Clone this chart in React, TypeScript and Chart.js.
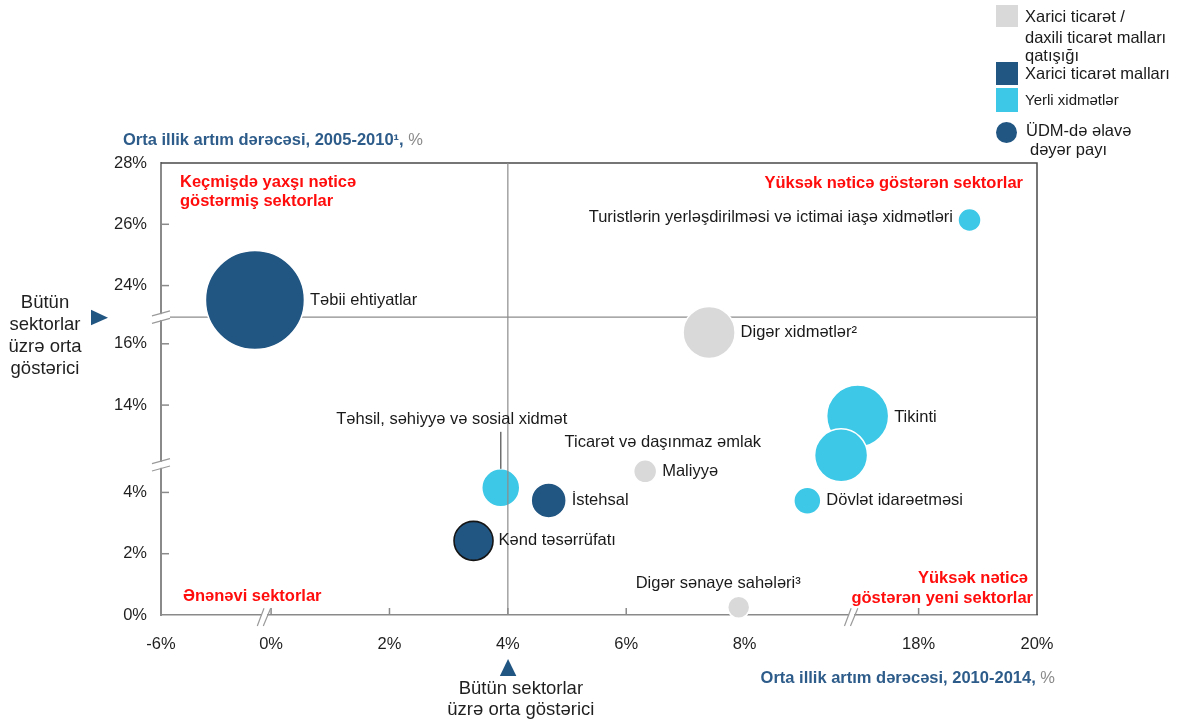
import React, { useEffect, useRef } from "react";
import { Chart, registerables } from "chart.js";

Chart.register(...registerables);

const FONT = "'Liberation Sans', Arial, Helvetica, sans-serif";

// ---------------- DATA ----------------
const sectors = [
  "Təbii ehtiyatlar",
  "Turistlərin yerləşdirilməsi və ictimai iaşə xidmətləri",
  "Digər xidmətlər²",
  "Tikinti",
  "Ticarət və daşınmaz əmlak",
  "Dövlət idarəetməsi",
  "Maliyyə",
  "İstehsal",
  "Təhsil, səhiyyə və sosial xidmət",
  "Kənd təsərrüfatı",
  "Digər sənaye sahələri³",
];
// x: average annual growth 2010-2014, %
const growth2010_2014 = [-0.88, 18.86, 7.4, 16.97, 9.63, 9.06, 6.32, 4.69, 3.88, 3.42, 7.9];
// y: average annual growth 2005-2010, %
const growth2005_2010 = [23.53, 26.14, 16.37, 13.64, 12.36, 3.73, 4.69, 3.74, 4.15, 2.42, 0.25];
// bubble size: share of value added in GDP (bubble radius)
const valueAddedShare = [49.5, 11.5, 26, 31, 26.5, 13.5, 11.5, 17.5, 19, 19.5, 11];
// 0 = mixed, 1 = foreign-trade goods, 2 = local services
const sectorGroup = [1, 2, 0, 2, 2, 2, 0, 1, 2, 1, 0];
const groupNames = [
  "Xarici ticarət / daxili ticarət malları qatışığı",
  "Xarici ticarət malları",
  "Yerli xidmətlər",
];
const xTickValues = [-6, 0, 2, 4, 6, 8, 18, 20];
const yTickValues = [0, 2, 4, 14, 16, 24, 26, 28];
const xInnerTicks = [0, 2, 4, 6, 8, 18];
const yInnerTicks = [2, 4, 14, 16, 24, 26];
const avgGrowth2010_2014 = 4;

// ---------------- STYLE ----------------
const groupColors = ["#d9d9d9", "#215582", "#3cc8e6"];
const groupBorders = ["#ffffff", "#ffffff", "#ffffff"];
// label placement per sector: [mode, dx, dy]
const labelPlacement: [string, number, number][] = [
  ["right", 0, 0],
  ["left", 0, -3],
  ["right", 0, 0],
  ["right", 0, 1],
  ["endAt", -80, -13],
  ["right", 0, 0],
  ["right", 0, 0],
  ["right", 0, 0],
  ["leader", -49, -68],
  ["right", 0, 0],
  ["startAt", -103, -24],
];

// broken-axis mapping (real % -> linear axis position)
function toVX(x: number) {
  if (x < 0) return 1.86 + x * 0.31;
  if (x <= 13) return x + 1.86;
  return x - 5.2;
}
function toVY(y: number) {
  if (y <= 9) return y;
  if (y <= 19.5) return y - 7.15;
  return y - 13.25;
}
const X_BREAKS_V = [1.74, 11.66];
const Y_BREAKS_V = [4.9, 9.72];

function line(ctx: CanvasRenderingContext2D, x1: number, y1: number, x2: number, y2: number) {
  ctx.beginPath();
  ctx.moveTo(x1, y1);
  ctx.lineTo(x2, y2);
  ctx.stroke();
}

const decorPlugin = {
  id: "decor",
  beforeDatasetsDraw(chart: any) {
    const { ctx, chartArea: a, scales } = chart;
    const x = scales.x;
    const y = scales.y;
    ctx.save();
    // top / right frame
    ctx.strokeStyle = "#4a4a4a";
    ctx.lineWidth = 1.5;
    ctx.beginPath();
    ctx.moveTo(a.left, a.top);
    ctx.lineTo(a.right, a.top);
    ctx.lineTo(a.right, a.bottom);
    ctx.stroke();
    // inward ticks
    ctx.strokeStyle = "#8a8a8a";
    ctx.lineWidth = 1.5;
    xInnerTicks.forEach((v) => {
      const px = x.getPixelForValue(toVX(v));
      line(ctx, px, a.bottom, px, a.bottom - 7);
    });
    yInnerTicks.forEach((v) => {
      const py = y.getPixelForValue(toVY(v));
      line(ctx, a.left, py, a.left + 8, py);
    });
    // y-axis breaks
    Y_BREAKS_V.forEach((v) => {
      const py = y.getPixelForValue(v);
      ctx.fillStyle = "#ffffff";
      ctx.fillRect(a.left - 2, py - 3, 4, 6);
      ctx.strokeStyle = "#9a9a9a";
      ctx.lineWidth = 1.2;
      line(ctx, a.left - 9, py - 1.2, a.left + 9, py - 6.2);
      line(ctx, a.left - 9, py + 6.2, a.left + 9, py + 1.2);
    });
    // x-axis breaks
    X_BREAKS_V.forEach((v) => {
      const px = x.getPixelForValue(v);
      const b = a.bottom;
      ctx.fillStyle = "#ffffff";
      ctx.fillRect(px - 2, b - 2, 5, 4);
      ctx.strokeStyle = "#9a9a9a";
      ctx.lineWidth = 1.2;
      line(ctx, px - 6.7, b + 11, px, b - 6.7);
      line(ctx, px - 0.7, b + 11, px + 6.7, b - 6.7);
    });
    // horizontal average line
    const hy = y.getPixelForValue(Y_BREAKS_V[1]);
    ctx.strokeStyle = "#8c8c8c";
    ctx.lineWidth = 1.2;
    line(ctx, a.left + 9, hy, a.right, hy);
    ctx.restore();
  },
  afterDatasetsDraw(chart: any) {
    const { ctx, chartArea: a, scales } = chart;
    const x = scales.x;
    const y = scales.y;
    ctx.save();
    // vertical average line
    const vx = x.getPixelForValue(toVX(avgGrowth2010_2014));
    ctx.strokeStyle = "#8c8c8c";
    ctx.lineWidth = 1.2;
    line(ctx, vx, a.top, vx, a.bottom);

    // bubble labels
    ctx.font = `16.5px ${FONT}`;
    ctx.fillStyle = "#1a1a1a";
    ctx.textBaseline = "middle";
    sectors.forEach((name, i) => {
      const px = x.getPixelForValue(toVX(growth2010_2014[i]));
      const py = y.getPixelForValue(toVY(growth2005_2010[i]));
      const r = valueAddedShare[i];
      const [mode, dx, dy] = labelPlacement[i];
      if (mode === "right") {
        ctx.textAlign = "left";
        ctx.fillText(name, px + r + 5.5 + dx, py + dy);
      } else if (mode === "left") {
        ctx.textAlign = "right";
        ctx.fillText(name, px - r - 5 + dx, py + dy);
      } else if (mode === "endAt") {
        ctx.textAlign = "right";
        ctx.fillText(name, px + dx, py + dy);
      } else if (mode === "startAt") {
        ctx.textAlign = "left";
        ctx.fillText(name, px + dx, py + dy);
      } else if (mode === "leader") {
        ctx.textAlign = "center";
        ctx.fillText(name, px + dx, py + dy);
        ctx.strokeStyle = "#6e6e6e";
        ctx.lineWidth = 1.5;
        line(ctx, px, py + dy + 12, px, py - r);
      }
    });

    // quadrant labels (red)
    ctx.fillStyle = "#ff0d0d";
    ctx.font = `bold 16.5px ${FONT}`;
    ctx.textAlign = "left";
    ctx.fillText("Keçmişdə yaxşı nəticə", a.left + 19, a.top + 19);
    ctx.fillText("göstərmiş sektorlar", a.left + 19, a.top + 38);
    ctx.fillText("Ənənəvi sektorlar", a.left + 22, a.bottom - 19);
    ctx.textAlign = "right";
    ctx.fillText("Yüksək nəticə göstərən sektorlar", a.right - 14, a.top + 20);
    ctx.fillText("Yüksək nəticə", a.right - 9, a.bottom - 37);
    ctx.fillText("göstərən yeni sektorlar", a.right - 4, a.bottom - 17);

    // axis titles
    const drawTitle = (main: string, xPos: number, yPos: number, align: "left" | "right") => {
      ctx.font = `bold 16.5px ${FONT}`;
      const wMain = ctx.measureText(main).width;
      ctx.font = `16.5px ${FONT}`;
      const wPct = ctx.measureText("%").width;
      const start = align === "left" ? xPos : xPos - wMain - wPct;
      ctx.textAlign = "left";
      ctx.font = `bold 16.5px ${FONT}`;
      ctx.fillStyle = "#2e5c8a";
      ctx.fillText(main, start, yPos);
      ctx.font = `16.5px ${FONT}`;
      ctx.fillStyle = "#8a8a8a";
      ctx.fillText("%", start + wMain, yPos);
    };
    drawTitle("Orta illik artım dərəcəsi, 2005-2010¹, ", 123, 140, "left");
    drawTitle("Orta illik artım dərəcəsi, 2010-2014, ", 1055, 678, "right");

    // average markers
    const hy = y.getPixelForValue(Y_BREAKS_V[1]);
    ctx.fillStyle = "#215582";
    ctx.beginPath();
    ctx.moveTo(91, hy - 7.5);
    ctx.lineTo(108, hy + 0.5);
    ctx.lineTo(91, hy + 8);
    ctx.closePath();
    ctx.fill();
    ctx.beginPath();
    ctx.moveTo(vx - 8, a.bottom + 61);
    ctx.lineTo(vx + 8.5, a.bottom + 61);
    ctx.lineTo(vx + 0.2, a.bottom + 44);
    ctx.closePath();
    ctx.fill();

    ctx.fillStyle = "#1f1f1f";
    ctx.font = `18.5px ${FONT}`;
    ctx.textAlign = "center";
    ["Bütün", "sektorlar", "üzrə orta", "göstərici"].forEach((t, i) => {
      ctx.fillText(t, 45, hy - 14 + i * 22);
    });
    ctx.fillText("Bütün sektorlar", vx + 13, a.bottom + 74);
    ctx.fillText("üzrə orta göstərici", vx + 13, a.bottom + 95);

    // legend
    ctx.textAlign = "left";
    ctx.fillStyle = groupColors[0];
    ctx.fillRect(996, 5, 22, 22);
    ctx.fillStyle = groupColors[1];
    ctx.fillRect(996, 62, 22, 23);
    ctx.fillStyle = groupColors[2];
    ctx.fillRect(996, 88, 22, 24);
    ctx.fillStyle = groupColors[1];
    ctx.beginPath();
    ctx.arc(1006.5, 132.5, 10.5, 0, Math.PI * 2);
    ctx.fill();
    ctx.fillStyle = "#1a1a1a";
    ctx.font = `16.5px ${FONT}`;
    ctx.fillText("Xarici ticarət /", 1025, 17);
    ctx.fillText("daxili ticarət malları", 1025, 38);
    ctx.fillText("qatışığı", 1025, 56);
    ctx.fillText(groupNames[1], 1025, 74);
    ctx.fillText("ÜDM-də əlavə", 1026, 131);
    ctx.fillText("dəyər payı", 1030, 150);
    ctx.font = `15px ${FONT}`;
    ctx.fillText(groupNames[2], 1025, 101);
    ctx.restore();
  },
};

export default function App() {
  const ref = useRef<HTMLCanvasElement | null>(null);
  useEffect(() => {
    if (!ref.current) return;
    const datasets = groupNames.map((name, g) => {
      const idx = sectors.map((_, i) => i).filter((i) => sectorGroup[i] === g);
      return {
        label: name,
        data: idx.map((i) => ({
          x: toVX(growth2010_2014[i]),
          y: toVY(growth2005_2010[i]),
          r: valueAddedShare[i],
        })),
        backgroundColor: groupColors[g],
        borderColor: idx.map((i) => (sectors[i] === "Kənd təsərrüfatı" ? "#151515" : groupBorders[g])),
        borderWidth: idx.map((i) => (sectors[i] === "Kənd təsərrüfatı" ? 1.6 : 1.5)),
        hoverRadius: 0,
        clip: false as any,
      };
    });
    const tickFont = { family: FONT, size: 16.5 };
    const chart = new Chart(ref.current, {
      type: "bubble",
      data: { datasets },
      plugins: [decorPlugin],
      options: {
        animation: false,
        responsive: false,
        maintainAspectRatio: false,
        events: [],
        layout: { padding: { top: 163, right: 143, left: 0, bottom: 0 } },
        plugins: { legend: { display: false }, tooltip: { enabled: false } },
        scales: {
          x: {
            type: "linear",
            min: 0,
            max: 14.8,
            afterBuildTicks: (s: any) => {
              s.ticks = xTickValues.map((v) => ({ value: toVX(v) }));
            },
            afterFit: (s: any) => {
              s.height = 107;
            },
            grid: { display: true, drawOnChartArea: false, drawTicks: false, color: "rgba(0,0,0,0)" },
            border: { display: true, color: "#8a8a8a", width: 1.5 },
            ticks: {
              autoSkip: false,
              maxRotation: 0,
              padding: 20,
              color: "#1f1f1f",
              font: tickFont,
              callback: (_v: any, i: number) => `${xTickValues[i]}%`,
            },
          },
          y: {
            type: "linear",
            min: 0,
            max: 14.75,
            afterBuildTicks: (s: any) => {
              s.ticks = yTickValues.map((v) => ({ value: toVY(v) }));
            },
            afterFit: (s: any) => {
              s.width = 161;
            },
            grid: { display: true, drawOnChartArea: false, drawTicks: false, color: "rgba(0,0,0,0)" },
            border: { display: true, color: "#8a8a8a", width: 2 },
            ticks: {
              autoSkip: false,
              padding: 14,
              color: "#1f1f1f",
              font: tickFont,
              callback: (_v: any, i: number) => `${yTickValues[i]}%`,
            },
          },
        },
      } as any,
    });
    return () => chart.destroy();
  }, []);
  return (
    <div style={{ position: "fixed", left: 0, top: 0, width: 1180, height: 722, background: "#fff" }}>
      <canvas ref={ref} width={1180} height={722} style={{ display: "block", width: 1180, height: 722 }} />
    </div>
  );
}
